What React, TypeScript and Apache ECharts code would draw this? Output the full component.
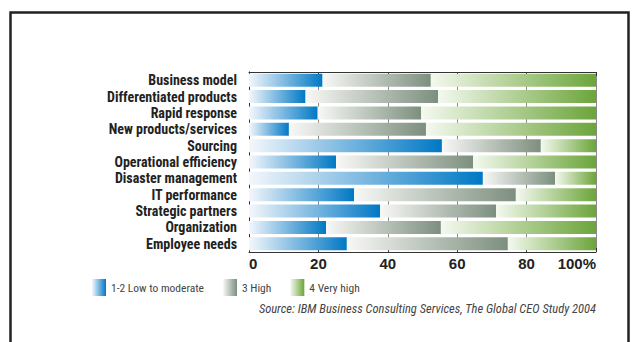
import React, { useEffect, useRef } from "react";
import * as echarts from "echarts";

const categories = [
  "Business model",
  "Differentiated products",
  "Rapid response",
  "New products/services",
  "Sourcing",
  "Operational efficiency",
  "Disaster management",
  "IT performance",
  "Strategic partners",
  "Organization",
  "Employee needs",
];
const lowModerate = [21.2, 16.3, 19.8, 11.5, 55.6, 25.1, 67.4, 30.3, 37.8, 22.2, 28.2];
const high = [31.2, 38.2, 29.8, 39.5, 28.5, 39.5, 20.8, 46.6, 33.4, 33.1, 46.4];
const veryHigh = [47.6, 45.5, 50.4, 49.0, 15.9, 35.4, 11.8, 23.1, 28.8, 44.7, 25.4];
const seriesNames = ["1-2 Low to moderate", "3 High", "4 Very high"];
const tickLabels: Record<number, string> = { 0: "0", 20: "20", 40: "40", 60: "60", 80: "80", 100: "100%" };
const sourceText = "Source: IBM Business Consulting Services, The Global CEO Study 2004";

const NARROW = "'Liberation Sans Narrow', 'Roboto Condensed', 'DejaVu Sans Condensed', sans-serif";

function grad(from: string, to: string) {
  return new echarts.graphic.LinearGradient(0, 0, 1, 0, [
    { offset: 0, color: from },
    { offset: 1, color: to },
  ]);
}

export default function App() {
  const ref = useRef<HTMLDivElement>(null);
  useEffect(() => {
    document.body.style.margin = "0";
    if (!ref.current) return;
    const chart = echarts.init(ref.current, null, { renderer: "svg" });
    const colors = [
      grad("#f4f7fc", "#0078c4"),
      grad("#f8f8f6", "#7c8f7e"),
      grad("#f4f9ef", "#6ca53a"),
    ];
    const dataSets = [lowModerate, high, veryHigh];
    chart.setOption({
      animation: false,
      backgroundColor: "#ffffff",
      grid: { left: 249, right: 36, top: 72, bottom: 90, containLabel: false },
      legend: {
        left: 87,
        top: 274,
        itemWidth: 14,
        itemHeight: 17,
        itemGap: 19,
        icon: "rect",
        textStyle: { fontFamily: NARROW, fontSize: 11.5, color: "#444" },
        data: seriesNames,
      },
      xAxis: [
        {
          type: "value",
          position: "bottom",
          min: 0,
          max: 100,
          interval: 20,
          axisLine: { show: true, lineStyle: { color: "#333", width: 1 } },
          axisTick: { show: true, inside: true, length: 4, lineStyle: { color: "#333" } },
          splitLine: { show: true, lineStyle: { color: "#8a8a8a", width: 1 } },
          axisLabel: {
            formatter: (v: number) => tickLabels[v] ?? "",
            fontFamily: "'Liberation Sans', Arial, sans-serif",
            fontWeight: "bold",
            fontSize: 15,
            color: "#222",
            margin: 4,
            alignMinLabel: "left",
            alignMaxLabel: "right",
          },
        },
        {
          type: "value",
          position: "top",
          min: 0,
          max: 100,
          interval: 20,
          axisLine: { show: true, lineStyle: { color: "#333", width: 1 } },
          axisTick: { show: true, inside: true, length: 4, lineStyle: { color: "#333" } },
          splitLine: { show: false },
          axisLabel: { show: false },
        },
      ],
      yAxis: [
        {
          type: "category",
          data: categories,
          inverse: true,
          position: "left",
          axisLine: { show: true, lineStyle: { color: "#999" } },
          axisTick: { show: false },
          axisLabel: {
            interval: 0,
            fontFamily: NARROW,
            fontWeight: "bold",
            fontSize: 14,
            lineHeight: 14,
            color: "#222",
            margin: 12,
          },
        },
        {
          type: "category",
          data: categories,
          inverse: true,
          position: "right",
          axisLine: { show: true, lineStyle: { color: "#333" } },
          axisTick: { show: false },
          axisLabel: { show: false },
        },
      ],
      series: seriesNames.map((name, i) => ({
        name,
        type: "bar",
        stack: "total",
        barWidth: 13,
        xAxisIndex: 0,
        yAxisIndex: 0,
        itemStyle: { color: colors[i] },
        data: dataSets[i],
      })),
      graphic: [
        {
          type: "rect",
          shape: { x: 10.5, y: 12.5, width: 618, height: 400 },
          style: { fill: "none", stroke: "#222", lineWidth: 2.5 },
          silent: true,
        },
        {
          type: "text",
          x: 596,
          y: 308,
          style: {
            text: sourceText,
            align: "right",
            verticalAlign: "middle",
            fontFamily: NARROW,
            fontStyle: "italic",
            fontSize: 12.5,
            fill: "#444",
          },
        },
      ],
    });
    return () => chart.dispose();
  }, []);
  return <div ref={ref} style={{ width: 632, height: 342 }} />;
}
